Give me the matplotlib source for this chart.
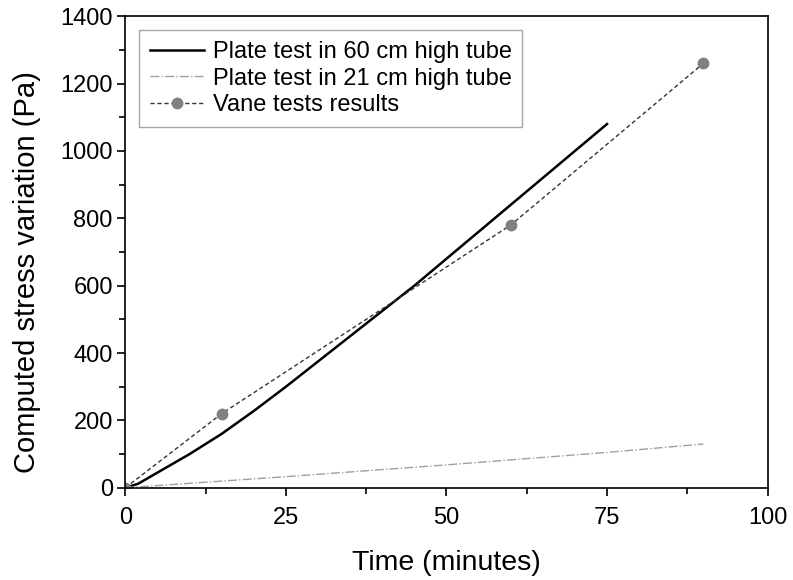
import matplotlib
matplotlib.use("Agg")
import matplotlib.pyplot as plt
from matplotlib.ticker import MultipleLocator

plt.rcParams["font.family"] = ["Liberation Sans", "DejaVu Sans"]

# plate test, 60 cm tube
t60 = [0, 2, 5, 10, 15, 20, 25, 30, 35, 40, 42, 45, 50, 55, 60, 65, 70, 75]
s60 = [0, 12, 45, 100, 160, 228, 300, 375, 450, 525, 555, 600, 680, 760, 840, 920, 1000, 1080]

# plate test, 21 cm tube
t21 = [0, 25, 50, 75, 90]
s21 = [0, 33, 68, 105, 130]

# vane tests
t_vane = [0, 15, 60, 90]
s_vane = [0, 220, 780, 1260]

fig = plt.figure(figsize=(7.93, 5.8), dpi=100)
ax = fig.add_axes([0.158, 0.159, 0.81, 0.813])

ax.plot(t60, s60, color="black", lw=1.8, label="Plate test in 60 cm high tube")
ax.plot(t21, s21, color="#a0a0a0", lw=1.0, ls="-.", label="Plate test in 21 cm high tube")
ax.plot(t_vane, s_vane, color="#333333", lw=1.0, ls=(0, (3, 2)), marker="o",
        ms=7.5, mfc="#808080", mec="#808080", label="Vane tests results")

ax.set_xlim(0, 100)
ax.set_ylim(0, 1400)
ax.xaxis.set_major_locator(MultipleLocator(25))
ax.xaxis.set_minor_locator(MultipleLocator(12.5))
ax.yaxis.set_major_locator(MultipleLocator(200))
ax.yaxis.set_minor_locator(MultipleLocator(100))
ax.tick_params(which="both", direction="out", labelsize=17, width=1.2)
ax.tick_params(axis="y", which="both", pad=3)
ax.tick_params(axis="x", which="both", pad=8)
ax.tick_params(which="major", length=6)
ax.tick_params(which="minor", length=4)
for sp in ax.spines.values():
    sp.set_linewidth(1.2)

ax.set_xlabel("Time (minutes)", fontsize=20.5, labelpad=15)
ax.set_ylabel("Computed stress variation (Pa)", fontsize=21)
ax.yaxis.set_label_coords(-0.132, 0.458)

leg = ax.legend(loc="upper left", fontsize=17, fancybox=False, edgecolor="#909090",
                handlelength=2.3, borderaxespad=0.6, labelspacing=0.2, handletextpad=0.35,
                borderpad=0.45)
leg.get_frame().set_linewidth(1.0)

fig.savefig("out.png", dpi=100)
